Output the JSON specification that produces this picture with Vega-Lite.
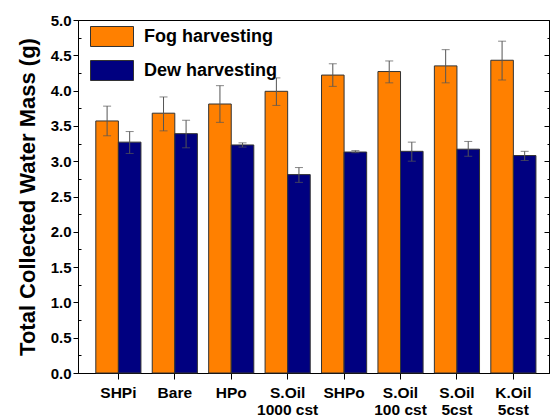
{
  "$schema": "https://vega.github.io/schema/vega-lite/v6.json",
  "width": 471,
  "height": 353,
  "autosize": {"type": "none"},
  "padding": {"left": 78, "top": 20, "right": 1, "bottom": 45},
  "background": "white",
  "config": {
    "view": {"stroke": "#000000", "strokeWidth": 1},
    "font": "Liberation Sans",
    "axis": {"labelFont": "Liberation Sans", "titleFont": "Liberation Sans", "domainColor": "#000000", "tickColor": "#000000", "labelColor": "#000000", "titleColor": "#000000", "grid": false}
  },
  "data": {
    "values": [
      {"cat": "SHPi", "series": "Fog harvesting", "value": 3.57, "lo": 3.36, "hi": 3.78},
      {"cat": "Bare", "series": "Fog harvesting", "value": 3.68, "lo": 3.43, "hi": 3.91},
      {"cat": "HPo", "series": "Fog harvesting", "value": 3.81, "lo": 3.55, "hi": 4.07},
      {"cat": "S.Oil 1000 cst", "series": "Fog harvesting", "value": 3.99, "lo": 3.79, "hi": 4.18},
      {"cat": "SHPo", "series": "Fog harvesting", "value": 4.22, "lo": 4.06, "hi": 4.38},
      {"cat": "S.Oil 100 cst", "series": "Fog harvesting", "value": 4.27, "lo": 4.11, "hi": 4.42},
      {"cat": "S.Oil 5cst", "series": "Fog harvesting", "value": 4.35, "lo": 4.11, "hi": 4.58},
      {"cat": "K.Oil 5cst", "series": "Fog harvesting", "value": 4.43, "lo": 4.15, "hi": 4.70},
      {"cat": "SHPi", "series": "Dew harvesting", "value": 3.27, "lo": 3.11, "hi": 3.42},
      {"cat": "Bare", "series": "Dew harvesting", "value": 3.39, "lo": 3.19, "hi": 3.58},
      {"cat": "HPo", "series": "Dew harvesting", "value": 3.23, "lo": 3.20, "hi": 3.26},
      {"cat": "S.Oil 1000 cst", "series": "Dew harvesting", "value": 2.81, "lo": 2.70, "hi": 2.91},
      {"cat": "SHPo", "series": "Dew harvesting", "value": 3.13, "lo": 3.12, "hi": 3.15},
      {"cat": "S.Oil 100 cst", "series": "Dew harvesting", "value": 3.14, "lo": 3.00, "hi": 3.27},
      {"cat": "S.Oil 5cst", "series": "Dew harvesting", "value": 3.17, "lo": 3.07, "hi": 3.28},
      {"cat": "K.Oil 5cst", "series": "Dew harvesting", "value": 3.08, "lo": 3.01, "hi": 3.14}
    ]
  },
  "encoding": {
    "x": {
      "field": "cat", "type": "nominal", "sort": null,
      "scale": {"paddingInner": 0.2, "paddingOuter": 0.2735, "align": 0.577},
      "axis": {
        "title": null, "labelAngle": 0, "labelFontSize": 15.5, "labelFontWeight": "bold",
        "labelLineHeight": 17, "labelPadding": 6, "tickSize": 6, "tickWidth": 1, "domainWidth": 1,
        "labelExpr": "indexof(datum.label, ' ') > 0 ? [slice(datum.label, 0, indexof(datum.label, ' ')), slice(datum.label, indexof(datum.label, ' ') + 1)] : datum.label"
      }
    },
    "xOffset": {"field": "series", "type": "nominal", "sort": ["Fog harvesting", "Dew harvesting"], "scale": {"paddingInner": 0, "paddingOuter": 0}}
  },
  "layer": [
    {
      "mark": {"type": "bar", "stroke": "#333333", "strokeWidth": 1},
      "encoding": {
        "y": {
          "field": "value", "type": "quantitative",
          "scale": {"domain": [0, 5], "nice": false, "zero": true},
          "axis": {
            "orient": "left",
            "title": "Total Collected Water Mass (g)", "titleFontSize": 22, "titleFontWeight": "bold", "titlePadding": 11,
            "values": [0, 0.25, 0.5, 0.75, 1, 1.25, 1.5, 1.75, 2, 2.25, 2.5, 2.75, 3, 3.25, 3.5, 3.75, 4, 4.25, 4.5, 4.75, 5],
            "labelExpr": "round(datum.value * 2) == datum.value * 2 ? format(datum.value, '.1f') : ''",
            "labelFontSize": 15, "labelFontWeight": "bold", "labelPadding": 2,
            "tickSize": {"condition": {"test": "round(datum.value * 2) == datum.value * 2", "value": 5}, "value": -3},
            "tickWidth": 1, "domainWidth": 1
          }
        },
        "color": {
          "field": "series", "type": "nominal",
          "scale": {"domain": ["Fog harvesting", "Dew harvesting"], "range": ["#FF8000", "#000080"]},
          "legend": {
            "title": null, "orient": "none", "legendX": 12, "legendY": -5.5, "padding": 0,
            "symbolType": "M-1,-0.465H1V0.465H-1Z", "symbolSize": 1849,
            "symbolStrokeColor": "#333333", "symbolStrokeWidth": 1, "symbolOpacity": 1,
            "labelFontSize": 18, "labelFontWeight": "bold", "labelColor": "#000000", "labelOffset": 10,
            "rowPadding": -10
          }
        }
      }
    },
    {
      "mark": {"type": "rule", "stroke": "#555555", "strokeWidth": 1},
      "encoding": {
        "y": {
          "field": "lo", "type": "quantitative",
          "axis": {
            "orient": "right", "title": null, "labels": false,
            "values": [0, 0.25, 0.5, 0.75, 1, 1.25, 1.5, 1.75, 2, 2.25, 2.5, 2.75, 3, 3.25, 3.5, 3.75, 4, 4.25, 4.5, 4.75, 5],
            "tickSize": {"condition": {"test": "round(datum.value * 2) == datum.value * 2", "value": -5}, "value": -2},
            "tickWidth": 1, "domainWidth": 1
          }
        },
        "y2": {"field": "hi"}
      }
    },
    {
      "mark": {"type": "tick", "orient": "horizontal", "color": "#555555", "size": 8, "thickness": 1},
      "encoding": {"y": {"field": "lo", "type": "quantitative", "axis": null}}
    },
    {
      "mark": {"type": "tick", "orient": "horizontal", "color": "#555555", "size": 8, "thickness": 1},
      "encoding": {"y": {"field": "hi", "type": "quantitative", "axis": null}}
    }
  ],
  "resolve": {"axis": {"y": "independent"}}
}
